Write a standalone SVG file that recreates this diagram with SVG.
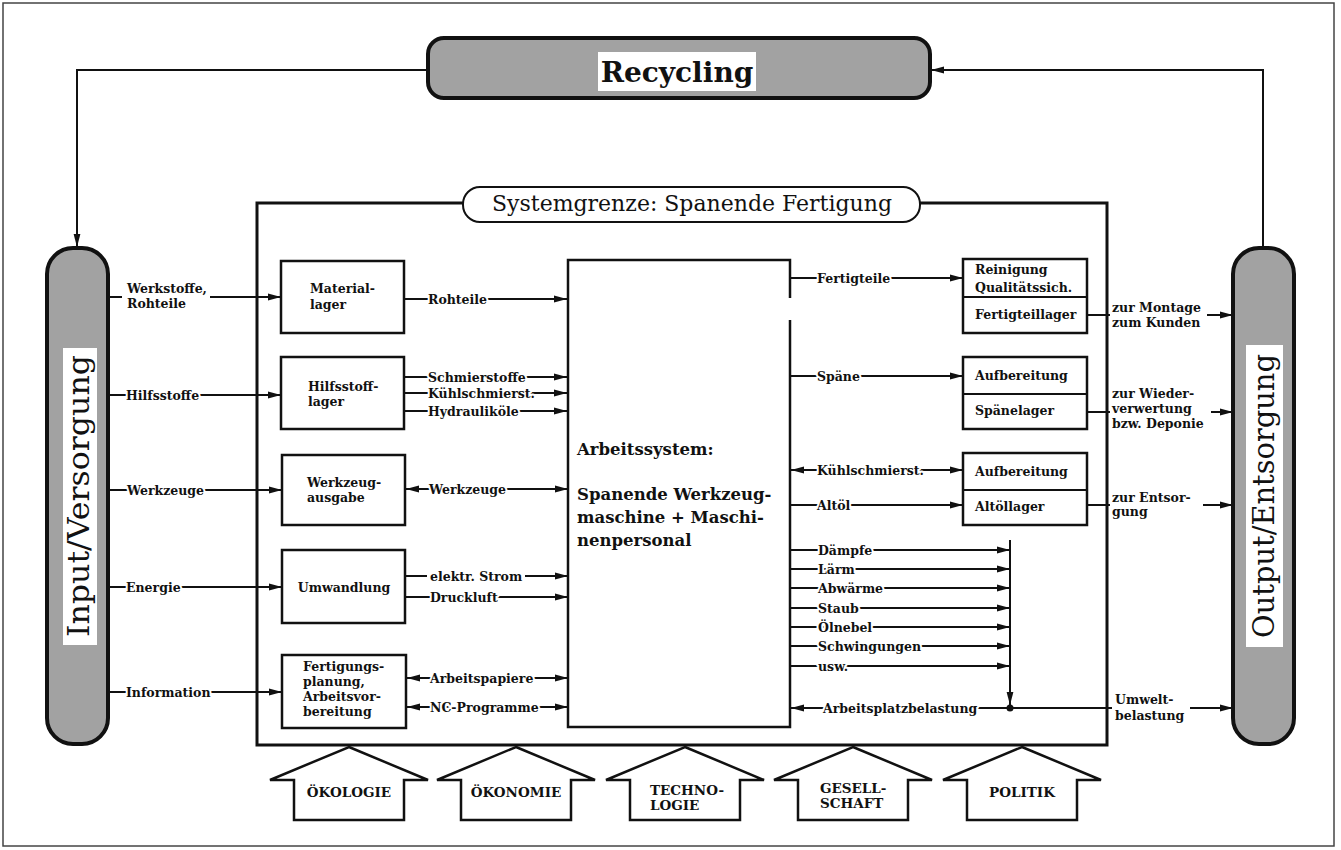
<svg xmlns="http://www.w3.org/2000/svg" width="1341" height="850" viewBox="0 0 1341 850">
<defs>
<style>
.frame{fill:#fff;stroke:#444;stroke-width:1.5}
.box{fill:#fff;stroke:#111;stroke-width:2.5}
.pill{fill:#a2a2a2;stroke:#111;stroke-width:4}
.ln{fill:none;stroke:#111;stroke-width:2}
.t{font-family:"DejaVu Serif",serif;font-weight:bold;font-size:12.5px;fill:#111}
.tc{font-family:"DejaVu Serif",serif;font-weight:bold;font-size:16.5px;fill:#111}
.ti{font-family:"DejaVu Serif",serif;font-weight:bold;font-size:13.5px;fill:#111}
.lbl{font-family:"DejaVu Serif",serif;font-weight:bold;font-size:12.5px;fill:#111;paint-order:stroke;stroke:#fff;stroke-width:4px;stroke-linejoin:round}
.big{font-family:"DejaVu Serif",serif;fill:#111}
.ctr{text-anchor:middle}
</style>
<marker id="ah" markerUnits="userSpaceOnUse" markerWidth="13" markerHeight="8" refX="13" refY="4" orient="auto-start-reverse" viewBox="0 0 13 8"><path d="M0,0.6 L13,4 L0,7.4 Z" fill="#111"/></marker>
</defs>
<rect class="frame" x="3" y="3" width="1331" height="843"/>

<g id="systemgrenze">
<rect x="257" y="203" width="850" height="542" fill="none" stroke="#111" stroke-width="3"/>
<rect x="463" y="187" width="457" height="35" rx="17" fill="#fff" stroke="#111" stroke-width="2"/>
<text class="big ctr" x="692" y="211" font-size="22" textLength="400" lengthAdjust="spacingAndGlyphs">Systemgrenze: Spanende Fertigung</text>
</g>

<g id="recycling">
<rect class="pill" x="428" y="38" width="502" height="60" rx="16"/>
<rect x="598" y="52" width="158" height="39" fill="#fff"/>
<text class="big ctr" x="677" y="82" font-size="28" font-weight="bold">Recycling</text>
</g>

<g id="input">
<rect class="pill" x="47" y="248" width="61" height="496" rx="26"/>
<rect x="63" y="348" width="34" height="297" fill="#fff"/>
<text class="big ctr" transform="translate(89,496) rotate(-90)" font-size="30" textLength="282" lengthAdjust="spacingAndGlyphs">Input/Versorgung</text>
</g>

<g id="output">
<rect class="pill" x="1233" y="248" width="61" height="496" rx="26"/>
<rect x="1246" y="345" width="37" height="302" fill="#fff"/>
<text class="big ctr" transform="translate(1274,496) rotate(-90)" font-size="30" textLength="284" lengthAdjust="spacingAndGlyphs">Output/Entsorgung</text>
</g>

<g id="materiallager">
<rect class="box" x="281" y="261" width="123" height="72"/>
<text class="t" x="310" y="293">Material-</text>
<text class="t" x="310" y="309">lager</text>
</g>
<g id="hilfsstofflager">
<rect class="box" x="281" y="357" width="123" height="72"/>
<text class="t" x="308" y="391">Hilfsstoff-</text>
<text class="t" x="308" y="406">lager</text>
</g>
<g id="werkzeugausgabe">
<rect class="box" x="282" y="455" width="123" height="70"/>
<text class="t" x="307" y="487">Werkzeug-</text>
<text class="t" x="307" y="502">ausgabe</text>
</g>
<g id="umwandlung">
<rect class="box" x="282" y="550" width="123" height="73"/>
<text class="t ctr" x="344" y="592">Umwandlung</text>
</g>
<g id="fertigungsplanung">
<rect class="box" x="282" y="655" width="124" height="73"/>
<text class="t" x="303" y="671">Fertigungs-</text>
<text class="t" x="303" y="686">planung,</text>
<text class="t" x="303" y="701">Arbeitsvor-</text>
<text class="t" x="303" y="716">bereitung</text>
</g>

<g id="arbeitssystem">
<path d="M790,298 V260 H568 V727 H790 V320" fill="#fff" stroke="#111" stroke-width="2.5"/>
<text class="tc" x="577" y="455">Arbeitssystem:</text>
<text class="tc" x="577" y="500">Spanende Werkzeug-</text>
<text class="tc" x="577" y="523">maschine + Maschi-</text>
<text class="tc" x="577" y="546">nenpersonal</text>
</g>

<g id="fertigteile-box">
<rect class="box" x="963" y="259" width="124" height="74"/>
<line class="ln" x1="963" y1="297" x2="1087" y2="297" stroke-width="2.5"/>
<text class="t" x="975" y="274">Reinigung</text>
<text class="t" x="975" y="292">Qualitätssich.</text>
<text class="t" x="975" y="319">Fertigteillager</text>
</g>
<g id="spaene-box">
<rect class="box" x="963" y="357" width="124" height="72"/>
<line class="ln" x1="963" y1="394" x2="1087" y2="394" stroke-width="2.5"/>
<text class="t" x="975" y="380">Aufbereitung</text>
<text class="t" x="975" y="415">Spänelager</text>
</g>
<g id="altoel-box">
<rect class="box" x="963" y="453" width="124" height="72"/>
<line class="ln" x1="963" y1="490" x2="1087" y2="490" stroke-width="2.5"/>
<text class="t" x="975" y="476">Aufbereitung</text>
<text class="t" x="975" y="511">Altöllager</text>
</g>

<g id="einfluss-oekologie">
<polygon class="box" points="349,747 428,780 404,780 404,820 294,820 294,780 270,780"/>
<text class="ti ctr" x="349" y="797">ÖKOLOGIE</text>
</g>
<g id="einfluss-oekonomie">
<polygon class="box" points="516,747 595,780 571,780 571,820 461,820 461,780 437,780"/>
<text class="ti ctr" x="516" y="797">ÖKONOMIE</text>
</g>
<g id="einfluss-technologie">
<polygon class="box" points="685,747 764,780 740,780 740,820 630,820 630,780 606,780"/>
<text class="ti" x="650" y="795">TECHNO-</text>
<text class="ti" x="650" y="810">LOGIE</text>
</g>
<g id="einfluss-gesellschaft">
<polygon class="box" points="853,747 932,780 908,780 908,820 798,820 798,780 774,780"/>
<text class="ti" x="820" y="793">GESELL-</text>
<text class="ti" x="820" y="808">SCHAFT</text>
</g>
<g id="einfluss-politik">
<polygon class="box" points="1022,747 1101,780 1077,780 1077,820 967,820 967,780 943,780"/>
<text class="ti ctr" x="1022" y="797">POLITIK</text>
</g>

<g id="connectors">
<polyline class="ln" points="428,70 77,70 77,247" marker-end="url(#ah)"/>
<polyline class="ln" points="1263,248 1263,70 931,70" marker-end="url(#ah)"/>

<line class="ln" x1="108" y1="297" x2="122" y2="297"/>
<line class="ln" x1="210" y1="297" x2="281" y2="297" marker-end="url(#ah)"/>
<line class="ln" x1="108" y1="395" x2="281" y2="395" marker-end="url(#ah)"/>
<line class="ln" x1="108" y1="490" x2="282" y2="490" marker-end="url(#ah)"/>
<line class="ln" x1="108" y1="587" x2="282" y2="587" marker-end="url(#ah)"/>
<line class="ln" x1="108" y1="692" x2="282" y2="692" marker-end="url(#ah)"/>

<line class="ln" x1="404" y1="299" x2="567" y2="299" marker-end="url(#ah)"/>
<line class="ln" x1="404" y1="377" x2="567" y2="377" marker-end="url(#ah)"/>
<line class="ln" x1="404" y1="393" x2="567" y2="393" marker-end="url(#ah)"/>
<line class="ln" x1="404" y1="411" x2="567" y2="411" marker-end="url(#ah)"/>
<line class="ln" x1="406" y1="489" x2="568" y2="489" marker-start="url(#ah)" marker-end="url(#ah)"/>
<line class="ln" x1="405" y1="576" x2="427" y2="576"/>
<line class="ln" x1="525" y1="576" x2="568" y2="576" marker-end="url(#ah)"/>
<line class="ln" x1="405" y1="597" x2="568" y2="597" marker-end="url(#ah)"/>
<line class="ln" x1="407" y1="678" x2="568" y2="678" marker-start="url(#ah)" marker-end="url(#ah)"/>
<line class="ln" x1="407" y1="707" x2="568" y2="707" marker-start="url(#ah)" marker-end="url(#ah)"/>

<line class="ln" x1="790" y1="278" x2="963" y2="278" marker-end="url(#ah)"/>
<line class="ln" x1="790" y1="376" x2="963" y2="376" marker-end="url(#ah)"/>
<line class="ln" x1="791" y1="470" x2="963" y2="470" marker-start="url(#ah)" marker-end="url(#ah)"/>
<line class="ln" x1="790" y1="505" x2="963" y2="505" marker-end="url(#ah)"/>
<line class="ln" x1="790" y1="550" x2="1010" y2="550" marker-end="url(#ah)"/>
<line class="ln" x1="790" y1="569" x2="1010" y2="569" marker-end="url(#ah)"/>
<line class="ln" x1="790" y1="588" x2="1010" y2="588" marker-end="url(#ah)"/>
<line class="ln" x1="790" y1="608" x2="1010" y2="608" marker-end="url(#ah)"/>
<line class="ln" x1="790" y1="627" x2="1010" y2="627" marker-end="url(#ah)"/>
<line class="ln" x1="790" y1="646" x2="1010" y2="646" marker-end="url(#ah)"/>
<line class="ln" x1="790" y1="666" x2="1010" y2="666" marker-end="url(#ah)"/>
<line class="ln" x1="1010" y1="540" x2="1010" y2="705" marker-end="url(#ah)"/>
<line class="ln" x1="1010" y1="708" x2="791" y2="708" marker-end="url(#ah)"/>
<circle cx="1010" cy="708" r="3.5" fill="#111"/>
<line class="ln" x1="1010" y1="708" x2="1112" y2="708"/>
<line class="ln" x1="1190" y1="708" x2="1233" y2="708" marker-end="url(#ah)"/>

<line class="ln" x1="1087" y1="315" x2="1110" y2="315"/>
<line class="ln" x1="1207" y1="315" x2="1233" y2="315" marker-end="url(#ah)"/>
<line class="ln" x1="1087" y1="412" x2="1110" y2="412"/>
<line class="ln" x1="1211" y1="412" x2="1233" y2="412" marker-end="url(#ah)"/>
<line class="ln" x1="1087" y1="505" x2="1110" y2="505"/>
<line class="ln" x1="1203" y1="505" x2="1233" y2="505" marker-end="url(#ah)"/>
</g>

<g id="connector-labels">
<text class="lbl" x="127" y="293">Werkstoffe,</text>
<text class="lbl" x="127" y="308">Rohteile</text>
<text class="lbl" x="126" y="400">Hilfsstoffe</text>
<text class="lbl" x="127" y="495">Werkzeuge</text>
<text class="lbl" x="126" y="592">Energie</text>
<text class="lbl" x="126" y="697">Information</text>

<text class="lbl" x="428" y="304">Rohteile</text>
<text class="lbl" x="428" y="382">Schmierstoffe</text>
<text class="lbl" x="428" y="398">Kühlschmierst.</text>
<text class="lbl" x="428" y="416">Hydrauliköle</text>
<text class="lbl" x="429" y="494">Werkzeuge</text>
<text class="lbl" x="430" y="581">elektr. Strom</text>
<text class="lbl" x="430" y="602">Druckluft</text>
<text class="lbl" x="430" y="683">Arbeitspapiere</text>
<text class="lbl" x="430" y="712">NC-Programme</text>

<text class="lbl" x="817" y="283">Fertigteile</text>
<text class="lbl" x="817" y="381">Späne</text>
<text class="lbl" x="817" y="475">Kühlschmierst.</text>
<text class="lbl" x="817" y="510">Altöl</text>
<text class="lbl" x="818" y="555">Dämpfe</text>
<text class="lbl" x="818" y="574">Lärm</text>
<text class="lbl" x="818" y="593">Abwärme</text>
<text class="lbl" x="818" y="613">Staub</text>
<text class="lbl" x="818" y="632">Ölnebel</text>
<text class="lbl" x="818" y="651">Schwingungen</text>
<text class="lbl" x="818" y="671">usw.</text>
<text class="lbl" x="823" y="713">Arbeitsplatzbelastung</text>

<text class="lbl" x="1112" y="312">zur Montage</text>
<text class="lbl" x="1112" y="327">zum Kunden</text>
<text class="lbl" x="1112" y="398">zur Wieder-</text>
<text class="lbl" x="1112" y="413">verwertung</text>
<text class="lbl" x="1112" y="428">bzw. Deponie</text>
<text class="lbl" x="1112" y="502">zur Entsor-</text>
<text class="lbl" x="1112" y="516">gung</text>
<text class="lbl" x="1115" y="704">Umwelt-</text>
<text class="lbl" x="1115" y="720">belastung</text>
</g>
</svg>
